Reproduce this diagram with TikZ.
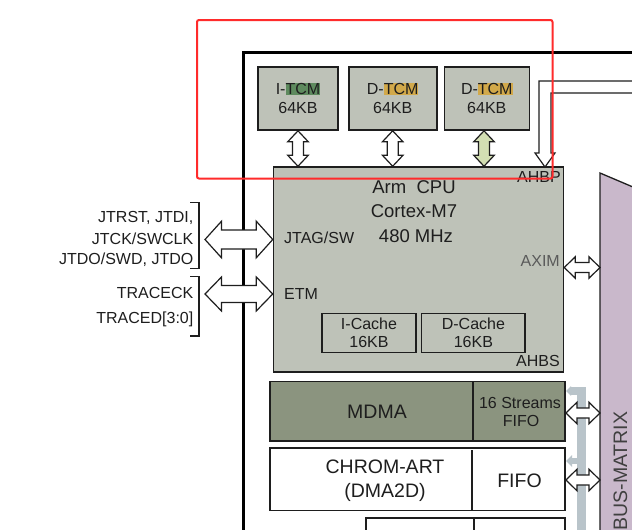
\documentclass[tikz,border=0pt]{standalone}
\usepackage{fontspec}
\setmainfont{Liberation Sans}
\usetikzlibrary{calc}
\definecolor{boxgray}{HTML}{BEC2B8}
\definecolor{mdmagray}{HTML}{8B947F}
\definecolor{busp}{HTML}{C9B8CB}
\definecolor{hlgreen}{HTML}{5E8A5E}
\definecolor{hlgold}{HTML}{D2A94A}
\definecolor{arrgreen}{HTML}{D3DFB3}
\definecolor{barblue}{HTML}{B9C4CA}
\definecolor{ink}{HTML}{1E1E1E}
\definecolor{axgray}{HTML}{5A5A5A}
\definecolor{redframe}{HTML}{FF2B2B}
\newcommand\hlt[2]{{\setlength{\fboxsep}{0pt}\colorbox{#1}{#2}}}
\newcommand\fsz[2]{\fontsize{#1}{#2}\selectfont}
% vertical double block arrow: #2 top, #3 bottom, #4 shaft half, #5 head half, #6 head length
\newcommand\vdarrow[6][white]{%
\draw[barrow, fill=#1] let \p1=(#2), \p2=(#3) in
 (\x1,\y1) -- (\x1+#5pt,\y1-#6pt) -- (\x1+#4pt,\y1-#6pt) -- (\x1+#4pt,\y2+#6pt)
 -- (\x1+#5pt,\y2+#6pt) -- (\x1,\y2) -- (\x1-#5pt,\y2+#6pt) -- (\x1-#4pt,\y2+#6pt)
 -- (\x1-#4pt,\y1-#6pt) -- (\x1-#5pt,\y1-#6pt) -- cycle;}
% horizontal double block arrow: #1 left, #2 right
\newcommand\hdarrow[5]{%
\draw[barrow] let \p1=(#1), \p2=(#2) in
 (\x1,\y1) -- (\x1+#5pt,\y1+#4pt) -- (\x1+#5pt,\y1+#3pt) -- (\x2-#5pt,\y1+#3pt)
 -- (\x2-#5pt,\y1+#4pt) -- (\x2,\y1) -- (\x2-#5pt,\y1-#4pt) -- (\x2-#5pt,\y1-#3pt)
 -- (\x1+#5pt,\y1-#3pt) -- (\x1+#5pt,\y1-#4pt) -- cycle;}
\tikzset{
 barrow/.style={draw=ink, line width=1.2pt, fill=white, line join=miter},
 blk/.style={draw=ink, line width=1.6pt, inner sep=0pt, align=center, text=ink},
 tcmbox/.style={blk, fill=boxgray, font=\fsz{16}{19}},
 cachebox/.style={blk, line width=1.4pt, font=\fsz{16}{18}},
 lbl/.style={inner sep=0pt, text=ink, font=\fsz{16}{19}},
 big/.style={inner sep=0pt, text=ink, font=\fsz{19.5}{23}},
 cpul/.style={inner sep=0pt, text=ink, font=\fsz{18.5}{22}},
}
\begin{document}
\begin{tikzpicture}[x=1pt,y=-1pt]
\useasboundingbox (0,0) rectangle (632,530);
\clip (0,0) rectangle (632,530);
\fill[white] (0,0) rectangle (632,530);

% outer thick frame
\draw[black, line width=3pt] (243,540) -- (243,52) -- (640,52);

% bus matrix
\draw[fill=busp, draw=ink, line width=1.3pt] (600,540) -- (600,173) -- (640,190) -- (640,540) -- cycle;
\node[big, rotate=90, text=ink!85] (bm) at (620.5,471) {BUS-MATRIX};

% gray bus bar
\fill[barblue] (577,387) rectangle (586,540);
\fill[barblue] (570,387) rectangle (586,395);
\fill[barblue] (566,391) -- (571,386) -- (571,396) -- cycle;
\fill[barblue] (566,461) -- (572,455) -- (572,467) -- cycle;
\fill[barblue] (571,458) rectangle (577,464);

% TCM boxes
\node[tcmbox, minimum width=80pt, minimum height=63pt] (itcm) at (298,98.5) {I-\hlt{hlgreen}{TCM}\\64KB};
\node[tcmbox, minimum width=88pt, minimum height=63pt] (dtcm) at (392.7,98.5) {D-\hlt{hlgold}{TCM}\\64KB};
\node[tcmbox, minimum width=85pt, minimum height=63pt] (dtcmb) at (486.8,98.5) {D-\hlt{hlgold}{TCM}\\64KB};

% CPU
\node[blk, fill=boxgray, line width=1.5pt, minimum width=290pt, minimum height=205pt] (cpu) at (418.5,269.5) {};
\node[cpul, anchor=base] (t1) at (414,193.6) {Arm~~CPU};
\node[cpul, anchor=base] (t2) at (414,217.6) {Cortex-M7};
\node[cpul, anchor=base] (t3) at (416,242) {480 MHz};
\node[lbl, anchor=base west] (jtagt) at (284,243.7) {JTAG/SW};
\node[lbl, anchor=base west] (etmt) at (284,299.7) {ETM};
\node[lbl, anchor=base east, text=axgray] (axim) at (560,266.7) {AXIM};
\node[lbl, anchor=base east] (ahbp) at (561,182.7) {AHBP};
\node[lbl, anchor=base east] (ahbs) at (560,366.7) {AHBS};
\node[cachebox, minimum width=94pt, minimum height=39pt] (icache) at (369,333) {I-Cache\\16KB};
\node[cachebox, minimum width=103.3pt, minimum height=39pt] (dcache) at (473.4,333) {D-Cache\\16KB};

% MDMA
\node[blk, fill=mdmagray, line width=1.8pt, minimum width=295pt, minimum height=59.5pt] (mdma) at (417.5,411.25) {};
\draw[ink, line width=1.5pt] (473,381.5) -- (473,441);
\node[big, anchor=base] (mdmat) at (377,418) {MDMA};
\node[lbl, anchor=base] (st1) at (520,408.7) {16 Streams};
\node[lbl, anchor=base] (st2) at (521,426.7) {FIFO};

% CHROM-ART
\node[blk, fill=white, line width=1.8pt, minimum width=295pt, minimum height=62.5pt] (chrom) at (417.5,479.25) {};
\draw[ink, line width=1.5pt] (472,450) -- (472,510);
\node[big, anchor=base] (ch1) at (385,473) {CHROM-ART};
\node[big, anchor=base] (ch2) at (385,497.7) {(DMA2D)};
\node[big, anchor=base] (ff) at (519.5,487) {FIFO};

% bottom box
\draw[ink, line width=1.8pt, fill=white] (366,518) rectangle (565,545);
\draw[ink, line width=1.5pt] (474,518) -- (474,545);

% TCM arrows
\coordinate (a1t) at (itcm.south);
\coordinate (a2t) at (dtcm.south);
\coordinate (a3t) at ([xshift=-2.8pt]dtcmb.south);
\vdarrow{a1t}{a1t |- cpu.north}{5.5}{10.3}{11}
\vdarrow{a2t}{a2t |- cpu.north}{5.5}{10.3}{11}
\vdarrow[arrgreen]{a3t}{a3t |- cpu.north}{5.5}{10.3}{11}

% AHBP arrow
\coordinate (ahbptip) at (545,167);
\draw[barrow] (ahbptip) -- ++(10,-14) -- ++(-4,0) -- ++(0,-60) -- ++(95,0) -- ++(0,-12)
  -- ++(-107,0) -- ++(0,72) -- ++(-4,0) -- cycle;

% JTAG / ETM arrows
\coordinate (jtagL) at (205,239.5);
\coordinate (etmL) at (205,294);
\hdarrow{jtagL}{cpu.west |- jtagL}{9.5}{18.3}{16.5}
\hdarrow{etmL}{cpu.west |- etmL}{8.5}{17}{16.5}

% right side arrows
\coordinate (axR) at (600,267.5);
\hdarrow{cpu.east |- axR}{axR}{5}{10.7}{11}
\hdarrow{mdma.east |- 0,413}{600,413}{5}{10.7}{11}
\hdarrow{chrom.east |- 0,480}{600,480}{5}{10.7}{11}

% left labels and brackets
\node[lbl, anchor=base east] (j1) at (193.5,222.7) {JTRST, JTDI,};
\node[lbl, anchor=base east] (j2) at (193.5,244.7) {JTCK/SWCLK};
\node[lbl, anchor=base east] (j3) at (193.5,264.7) {JTDO/SWD, JTDO};
\node[lbl, anchor=base east] (tr1) at (193.5,298.7) {TRACECK};
\node[lbl, anchor=base east] (tr2) at (193.5,323.7) {TRACED[3:0]};
\draw[ink, line width=1.2pt] (190,202.3) -- (199,202.3) -- (199,268.3) -- (190,268.3);
\draw[ink, line width=1.2pt] (190,276.7) -- (199,276.7) -- (199,336) -- (190,336);

% red highlight frame
\draw[redframe, line width=2pt, rounded corners=2pt] (197,20) rectangle (552.5,178.5);
\end{tikzpicture}
\end{document}
